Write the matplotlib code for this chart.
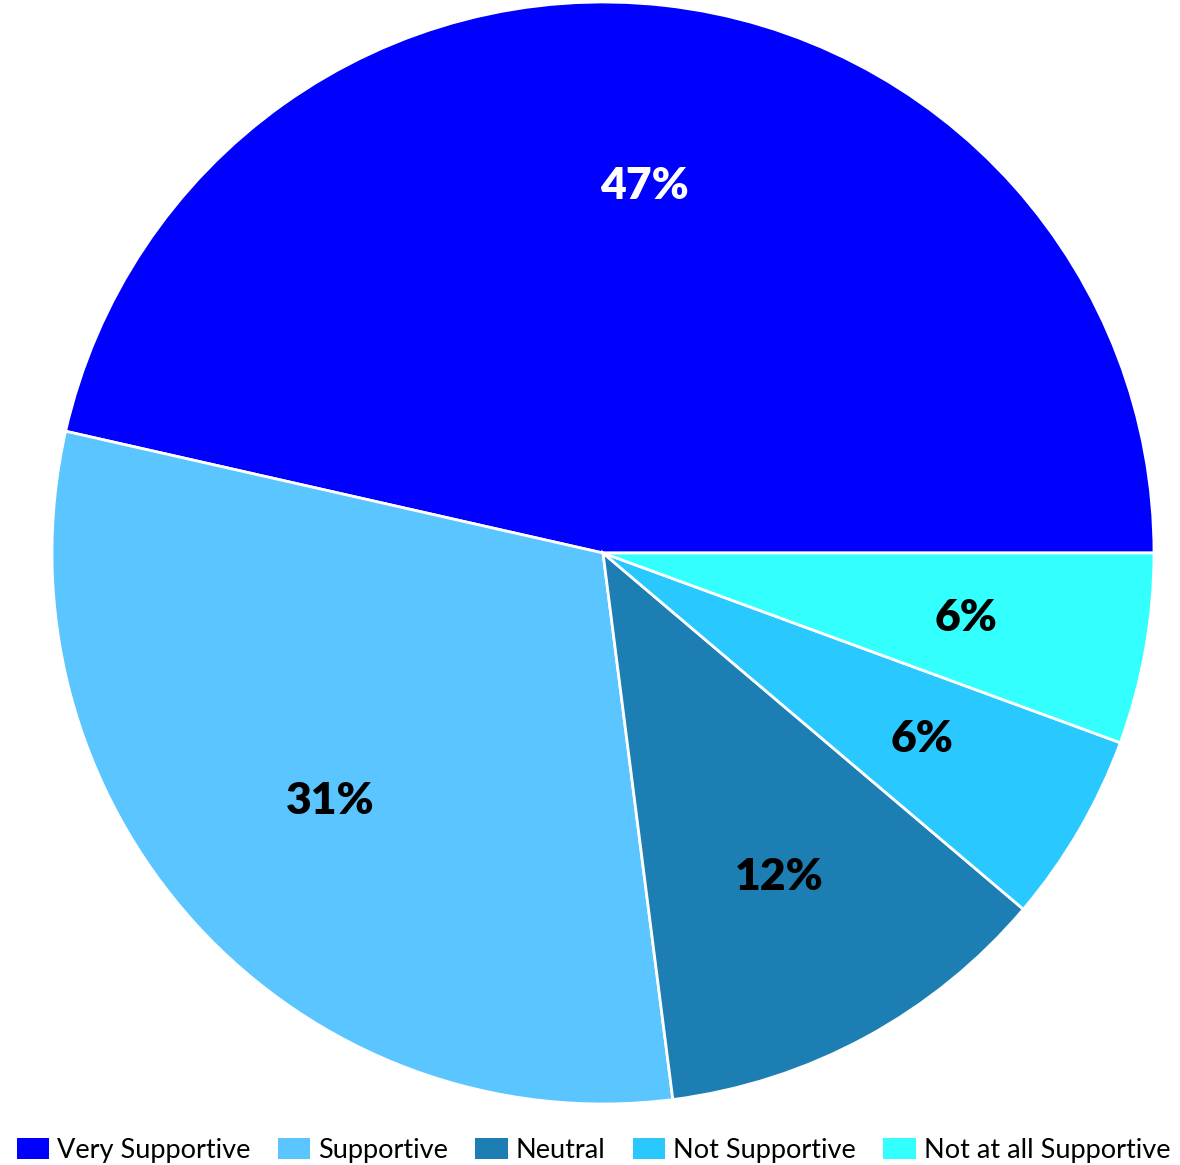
import matplotlib
matplotlib.use("Agg")
import matplotlib.pyplot as plt

categories = ["Very Supportive", "Supportive", "Neutral", "Not Supportive", "Not at all Supportive"]
values = [46.5, 30.6, 11.8, 5.6, 5.6]
pct_labels = ["47%", "31%", "12%", "6%", "6%"]
colors = ["#0000FF", "#5BC5FF", "#1C7EB3", "#29C9FF", "#33FFFF"]
label_colors = ["white", "black", "black", "black", "black"]

W, H = 1180, 1165
fig = plt.figure(figsize=(W / 100, H / 100), dpi=100)
cx, cy, r = 603, 553, 551
ax = fig.add_axes([(cx - r) / W, (H - cy - r) / H, 2 * r / W, 2 * r / H])

wedges, texts, autotexts = ax.pie(
    values, colors=colors, startangle=0, counterclock=True,
    autopct="%1.0f%%", pctdistance=0.67,
    wedgeprops=dict(edgecolor="white", linewidth=2),
)
for t, lab, c in zip(autotexts, pct_labels, label_colors):
    t.set_text(lab)
    t.set_color(c)
    t.set_fontfamily("Lato")
    t.set_fontweight("heavy")
    t.set_fontsize(32)
ax.set_xlim(-1, 1)
ax.set_ylim(-1, 1)
ax.set_aspect("equal")
ax.axis("off")

leg = fig.legend(
    wedges, categories, loc="lower center", bbox_to_anchor=(0.503, -0.012),
    ncol=5, frameon=False, handlelength=1.2, handleheight=0.8,
    handletextpad=0.3, columnspacing=1.0, borderaxespad=0.2,
    prop={"family": "Lato", "size": 19.5},
)
for h in leg.legend_handles:
    h.set_edgecolor("none")

fig.savefig("out.png", dpi=100)
